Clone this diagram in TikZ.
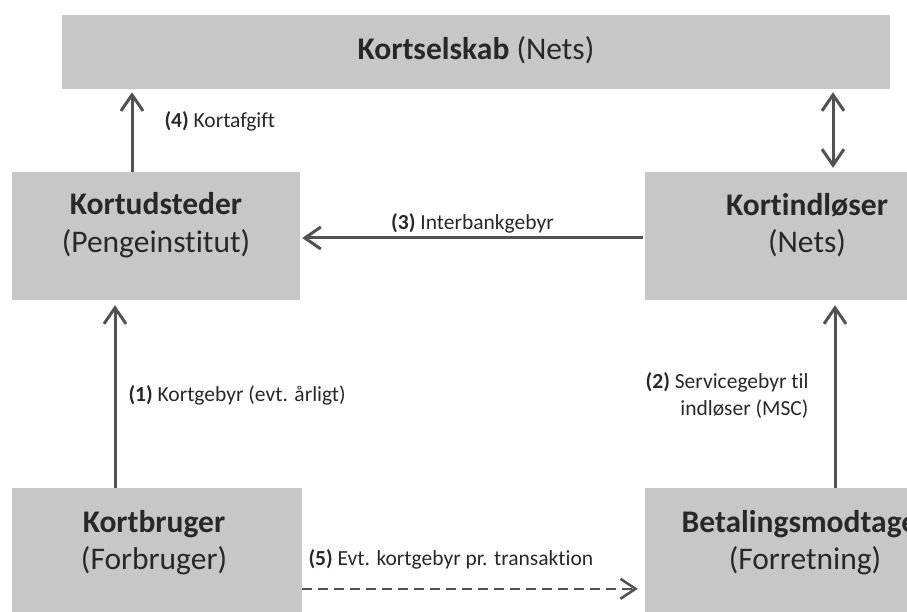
\documentclass[tikz,border=0pt]{standalone}
\usepackage{fontspec}
\setmainfont{Carlito}[Ligatures=NoCommon]
\usetikzlibrary{positioning, arrows.meta}
\definecolor{boxgray}{RGB}{199,199,199}
\definecolor{arrowgray}{RGB}{82,82,82}
\definecolor{inkgray}{RGB}{40,40,40}

\begin{document}
\begin{tikzpicture}[x=1pt, y=-1pt, on grid, ->, >={Straight Barb[length=16pt,width=22pt]},
    box/.style={rectangle, fill=boxgray, inner sep=0pt},
    boxtext/.style={text=inkgray, align=center, inner sep=0pt, font=\fontsize{31.5}{37.5}\selectfont},
    flow/.style={draw=arrowgray, line width=3pt},
    fee/.style={text=inkgray, inner sep=2pt, font=\fontsize{21.5}{27}\selectfont}]
  \useasboundingbox (0,0) rectangle (907,612);
  \clip (0,0) rectangle (907,612);
  % parties
  \node[box, minimum width=828pt, minimum height=74pt] (selskab) at (476,52) {};
  \node[box, minimum width=288pt, minimum height=128pt] (udsteder) at (156,236) {};
  \node[box, minimum width=324pt, minimum height=128pt, right=651pt of udsteder] (indloeser) {};
  \node[box, minimum width=290pt, minimum height=152pt] (bruger) at (157,564) {};
  \node[box, minimum width=324pt, minimum height=152pt, right=650pt of bruger] (modtager) {};
  \node[boxtext] (selskab-t) at ([yshift=2pt]selskab.center) {\textbf{Kortselskab} (Nets)};
  \node[boxtext] (udsteder-t) at ([yshift=11pt]udsteder.center) {\textbf{Kortudsteder}\\(Pengeinstitut)};
  \node[boxtext] (indloeser-t) at ([yshift=11pt]indloeser.center) {\textbf{Kortindløser}\\(Nets)};
  \node[boxtext] (bruger-t) at ([xshift=-3pt, yshift=-55pt]bruger.north) {\textbf{Kortbruger}\\(Forbruger)};
  \node[boxtext] (modtager-t) at ([xshift=-2pt, yshift=-55pt]modtager.north) {\textbf{Betalingsmodtager}\\(Forretning)};

  % fees between the parties
  \draw[flow, shorten >=3pt] ([xshift=-24pt]udsteder.north) -- ([xshift=-24pt]udsteder.north |- selskab.south)
    node[fee, midway, anchor=west, xshift=29pt, yshift=9pt] (l4) {\textbf{(4)} Kortafgift};
  \draw[flow, <->, shorten >=3pt, shorten <=4pt] ([xshift=26pt]indloeser.north) -- ([xshift=26pt]indloeser.north |- selskab.south);
  \draw[flow, shorten <=2pt, shorten >=2pt] ([yshift=-2pt]indloeser.west) -- ([yshift=-2pt]udsteder.east)
    node[fee, midway, yshift=15pt] (l3) {\textbf{(3)} Interbankgebyr};
  \draw[flow, shorten >=5pt] ([xshift=-42pt]bruger.north) -- ([xshift=-42pt]bruger.north |- udsteder.south)
    node[fee, midway, anchor=west, xshift=10pt, yshift=-1pt] (l1) {\textbf{(1)} Kortgebyr (evt. årligt)};
  \draw[flow, shorten >=5pt] ([xshift=28pt]modtager.north) -- ([xshift=28pt]modtager.north |- indloeser.south)
    node[fee, midway, anchor=east, align=right, xshift=-23pt, yshift=-2pt] (l2) {\textbf{(2)} Servicegebyr til\\indløser (MSC)};
  \draw[flow, line width=2.6pt, dash pattern=on 10pt off 6pt, >={Straight Barb[length=15pt,width=20pt]}, shorten >=7pt]
    ([yshift=-101pt]bruger.north east) -- ([yshift=-101pt]bruger.north east -| modtager.west)
    node[fee, pos=0, anchor=west, xshift=3pt, yshift=29pt] (l5) {\textbf{(5)} Evt. kortgebyr pr. transaktion};
\end{tikzpicture}
\end{document}
